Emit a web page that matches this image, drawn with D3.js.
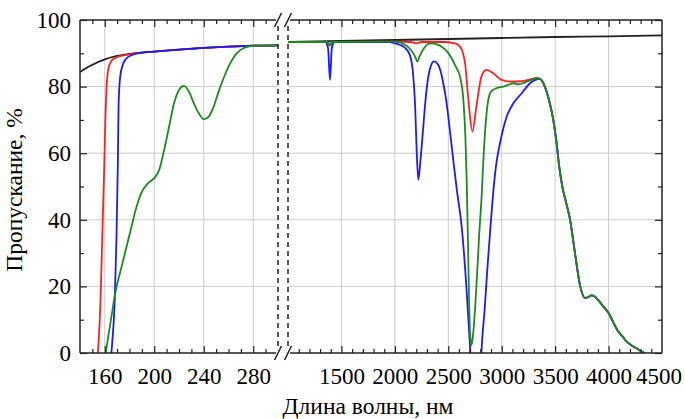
<!DOCTYPE html>
<html>
<head>
<meta charset="utf-8">
<script src="https://cdn.jsdelivr.net/npm/d3@7"></script>
<style>
    body { margin: 0; background: #fff; }
</style>
</head>
<body>
<div id="chart"></div>
<script>
// transmission, [wavelength nm, %] - UV part (left panel)
let blackUv = [[140, 84.4], [148, 86.2], [160, 88.2], [170, 89.2], [180, 89.8], [200, 90.5], [220, 91.1],
    [240, 91.6], [260, 92], [280, 92.3], [300, 92.4]];
let redUv = [[153, -5], [155, 3], [156.5, 15], [158, 35], [159.5, 55], [160.5, 70], [161.5, 80], [163, 85.5],
    [165.5, 87.8], [170, 88.9], [180, 89.7], [190, 90.2], [200, 90.5], [220, 91.1], [240, 91.6], [260, 92],
    [280, 92.3], [300, 92.4]];
let blueUv = [[164, -5], [166, 3], [168, 15], [169.5, 35], [170.5, 55], [171.2, 75], [172.5, 83], [174.5, 86.5],
    [177, 88.3], [182, 89.5], [190, 90.2], [200, 90.5], [220, 91.1], [240, 91.6], [260, 92], [280, 92.3], [300, 92.4]];
let greenUv = [[160, -2], [162, 3], [165, 10], [169, 19], [173, 25], [177, 31], [181, 37], [185, 43], [189.5, 48],
    [195, 51], [200, 52.5], [204, 55], [208, 61], [212, 68], [216, 75], [220, 79], [224, 80.2], [228, 78.5],
    [232, 75], [236, 72], [240, 70.2], [244, 71], [248, 74], [252, 78.5], [256, 82.5], [260, 86], [264, 88.7],
    [268, 90.5], [272, 91.5], [276, 92], [282, 92.3], [300, 92.4]];

// IR part (right panel)
let blackIr = [[1000, 93.4], [1500, 93.7], [2000, 94], [2500, 94.3], [3000, 94.6], [3500, 94.9], [4000, 95.1], [4500, 95.4]];
let redIr = [[1000, 93.4], [1370, 93.4], [1392, 92.3], [1415, 93.4], [2000, 93.5], [2150, 93.4], [2200, 93],
    [2250, 93.4], [2450, 93.4], [2560, 93], [2610, 92], [2657, 87], [2688, 76], [2726, 66.5], [2763, 74],
    [2810, 83], [2857, 85], [2920, 84], [2999, 82], [3077, 81.5], [3190, 81.6], [3280, 82.3], [3330, 82.6],
    [3360, 82.3]];
let blueIr = [[1000, 93.4], [1350, 93.4], [1375, 91.5], [1393, 82], [1410, 91.5], [1435, 93.4], [1950, 93.4],
    [2000, 93], [2050, 92.5], [2100, 91.5], [2140, 89.5], [2170, 84], [2190, 74], [2205, 60], [2220, 52],
    [2240, 58], [2266, 68], [2290, 77], [2313, 83], [2340, 86.5], [2365, 87.6], [2390, 87.2], [2420, 85.5],
    [2453, 81], [2480, 76], [2500, 71], [2525, 64], [2550, 57], [2580, 49], [2625, 38], [2671, 19], [2690, 9],
    [2705, 1], [2720, -8], [2760, -15], [2800, -6], [2815, 3], [2840, 13], [2865, 25], [2895, 38], [2920, 48],
    [2950, 57], [2984, 63], [3047, 71], [3109, 75], [3187, 78], [3265, 81], [3328, 82.2], [3360, 82.3]];
let greenIr = [[1000, 93.4], [1370, 93.4], [1390, 92.3], [1410, 93.4], [2000, 93.5], [2100, 92.5], [2150, 91],
    [2190, 89], [2210, 87.5], [2230, 89], [2266, 91.2], [2310, 92.8], [2344, 93], [2400, 92.6], [2438, 92],
    [2490, 90.5], [2531, 88.5], [2570, 86], [2610, 83], [2641, 76], [2660, 65], [2672, 52], [2685, 32],
    [2695, 15], [2705, 5], [2717, 2.4], [2730, 5], [2750, 13], [2770, 24], [2790, 36], [2812, 47], [2830, 59],
    [2843, 66], [2860, 72.5], [2874, 76], [2900, 78.5], [2950, 79.5], [3015, 80], [3060, 80.5], [3109, 81],
    [3156, 80.7], [3200, 81], [3234, 81.5], [3280, 82], [3312, 82.5], [3340, 82.4], [3360, 82.3]];
// all three samples share this tail
let tailIr = [[3390, 81], [3420, 78.5], [3450, 75], [3480, 70.5], [3510, 64], [3540, 55.5], [3570, 49.5],
    [3600, 45.5], [3640, 40], [3690, 29], [3735, 20], [3780, 16.5], [3810, 16.8], [3840, 17.3], [3870, 17],
    [3900, 16], [3950, 14], [4000, 12], [4040, 9.5], [4080, 7], [4130, 5], [4170, 3.4], [4220, 2.2],
    [4260, 1.4], [4300, 0.6], [4330, 0], [4360, -1]];

let leftTicks = [160, 200, 240, 280];
let rightTicks = [1500, 2000, 2500, 3000, 3500, 4000, 4500];
let yTicks = [0, 20, 40, 60, 80, 100];
let yMinor = [10, 30, 50, 70, 90];

let colors = { black: '#222222', red: '#ff2020', blue: '#1a1aff', green: '#1e8a1e' };
let font = '"Liberation Serif", "Times New Roman", serif';
let fmt = d3.format('d');

let margin = {
    top: 20,
    right: 23,
    bottom: 66,
    left: 80
};

let width = 685 - margin.left - margin.right;
let height = 419 - margin.top - margin.bottom;
let gap = 10; // space for the axis break

let svg = d3.select('#chart')
    .append('svg')
        .attr('width', width + margin.left + margin.right)
        .attr('height', height + margin.top + margin.bottom);

let g = svg.append('g')
    .attr('transform', "translate(" + margin.left + "," + margin.top + ")");

let xL = d3.scaleLinear().domain([140, 300]).range([0, 198]);
let xR = d3.scaleLinear().domain([1000, 4500]).range([198 + gap, width]);
let y = d3.scaleLinear().domain([0, 100]).range([height, 0]);

// clip areas for the two panels
let defs = svg.append('defs');
defs.append('clipPath').attr('id', 'clipL').append('rect')
    .attr('x', 0).attr('y', 0).attr('width', 198).attr('height', height);
defs.append('clipPath').attr('id', 'clipR').append('rect')
    .attr('x', 198 + gap).attr('y', 0).attr('width', width - 198 - gap).attr('height', height);

// grid
let grid = g.append('g').attr('stroke', '#cccccc').attr('stroke-width', 1);
[[0, 198], [198 + gap, width]].forEach(function (r) {
    yTicks.slice(1, -1).forEach(function (v) {
        grid.append('line').attr('x1', r[0]).attr('x2', r[1]).attr('y1', y(v)).attr('y2', y(v));
    });
});
leftTicks.forEach(function (v) {
    grid.append('line').attr('x1', xL(v)).attr('x2', xL(v)).attr('y1', 0).attr('y2', height);
});
rightTicks.slice(0, -1).forEach(function (v) {
    grid.append('line').attr('x1', xR(v)).attr('x2', xR(v)).attr('y1', 0).attr('y2', height);
});

// curves
let line = d3.line()
    .x(function (d) { return d[0]; })
    .y(function (d) { return y(d[1]); })
    .curve(d3.curveMonotoneX);

function drawSeries(data, x, clip, color) {
    g.append('path')
        .attr('clip-path', 'url(#' + clip + ')')
        .attr('fill', 'none')
        .attr('stroke', color)
        .attr('stroke-width', 1.8)
        .attr('d', line(data.map(function (d) { return [x(d[0]), d[1]]; })));
}

drawSeries(blackUv, xL, 'clipL', colors.black);
drawSeries(redUv, xL, 'clipL', colors.red);
drawSeries(blueUv, xL, 'clipL', colors.blue);
drawSeries(greenUv, xL, 'clipL', colors.green);

drawSeries(blackIr, xR, 'clipR', colors.black);
drawSeries(redIr.concat(tailIr), xR, 'clipR', colors.red);
drawSeries(blueIr.concat(tailIr), xR, 'clipR', colors.blue);
drawSeries(greenIr.concat(tailIr), xR, 'clipR', colors.green);

// axes, ticks pointing inward
function styleAxis(sel) {
    sel.attr('font-size', 23).attr('font-family', font);
    sel.select('.domain').remove();
    sel.selectAll('line').attr('stroke', '#222').attr('stroke-width', 1.2);
}

function xAxes(x, majors, minors) {
    g.append('g').attr('transform', "translate(0," + height + ")")
        .call(d3.axisBottom(x).tickValues(majors).tickSizeInner(-7).tickSizeOuter(0).tickPadding(15).tickFormat(fmt))
        .call(styleAxis);
    g.append('g').attr('transform', "translate(0," + height + ")")
        .call(d3.axisBottom(x).tickValues(minors).tickSizeInner(-4).tickSizeOuter(0).tickFormat(''))
        .call(styleAxis);
    g.append('g')
        .call(d3.axisTop(x).tickValues(majors).tickSizeInner(-7).tickSizeOuter(0).tickFormat(''))
        .call(styleAxis);
    g.append('g')
        .call(d3.axisTop(x).tickValues(minors).tickSizeInner(-4).tickSizeOuter(0).tickFormat(''))
        .call(styleAxis);
}

xAxes(xL, leftTicks, d3.range(150, 300, 10).filter(function (v) { return leftTicks.indexOf(v) < 0; }));
xAxes(xR, rightTicks.slice(0, -1), d3.range(1100, 4500, 100).filter(function (v) { return v % 500 !== 0; }));

g.append('g')
    .call(d3.axisLeft(y).tickValues(yTicks).tickSizeInner(-7).tickSizeOuter(0).tickPadding(9).tickFormat(fmt))
    .call(styleAxis);
g.append('g')
    .call(d3.axisLeft(y).tickValues(yMinor).tickSizeInner(-4).tickSizeOuter(0).tickFormat(''))
    .call(styleAxis);
g.append('g').attr('transform', "translate(" + width + ",0)")
    .call(d3.axisRight(y).tickValues(yTicks).tickSizeInner(-7).tickSizeOuter(0).tickFormat(''))
    .call(styleAxis);
g.append('g').attr('transform', "translate(" + width + ",0)")
    .call(d3.axisRight(y).tickValues(yMinor).tickSizeInner(-4).tickSizeOuter(0).tickFormat(''))
    .call(styleAxis);

// 4500 label sits on the right spine
g.append('text')
    .attr('x', width - 3)
    .attr('y', height + 15)
    .attr('dy', '0.71em')
    .attr('text-anchor', 'middle')
    .attr('font-size', 23)
    .attr('font-family', font)
    .text(fmt(rightTicks[rightTicks.length - 1]));

// frame with a break
let frame = g.append('g').attr('stroke', '#222').attr('stroke-width', 1.5).attr('fill', 'none');
frame.append('line').attr('x1', 0).attr('x2', 0).attr('y1', 0).attr('y2', height);
frame.append('line').attr('x1', width).attr('x2', width).attr('y1', 0).attr('y2', height);
[0, height].forEach(function (yy) {
    frame.append('line').attr('x1', 0).attr('x2', 196).attr('y1', yy).attr('y2', yy);
    frame.append('line').attr('x1', 198 + gap + 2).attr('x2', width).attr('y1', yy).attr('y2', yy);
    [198, 198 + gap].forEach(function (xx) {
        frame.append('line').attr('x1', xx - 3.5).attr('x2', xx + 3.5).attr('y1', yy + 7).attr('y2', yy - 7);
    });
});
[198, 198 + gap].forEach(function (xx) {
    frame.append('line')
        .attr('x1', xx).attr('x2', xx).attr('y1', 6).attr('y2', height - 6)
        .attr('stroke-dasharray', '5,4');
});

// X Label
g.append("text")
    .attr("y", height + 61)
    .attr("x", 288)
    .attr("font-size", "23.5px")
    .attr("font-family", font)
    .attr("text-anchor", "middle")
    .text("Длина волны, нм");

// Y Label
g.append("text")
    .attr("y", -58)
    .attr("x", -(170))
    .attr("font-size", "23.5px")
    .attr("font-family", font)
    .attr("text-anchor", "middle")
    .attr("transform", "rotate(-90)")
    .text("Пропускание, %");
</script>
</body>
</html>
